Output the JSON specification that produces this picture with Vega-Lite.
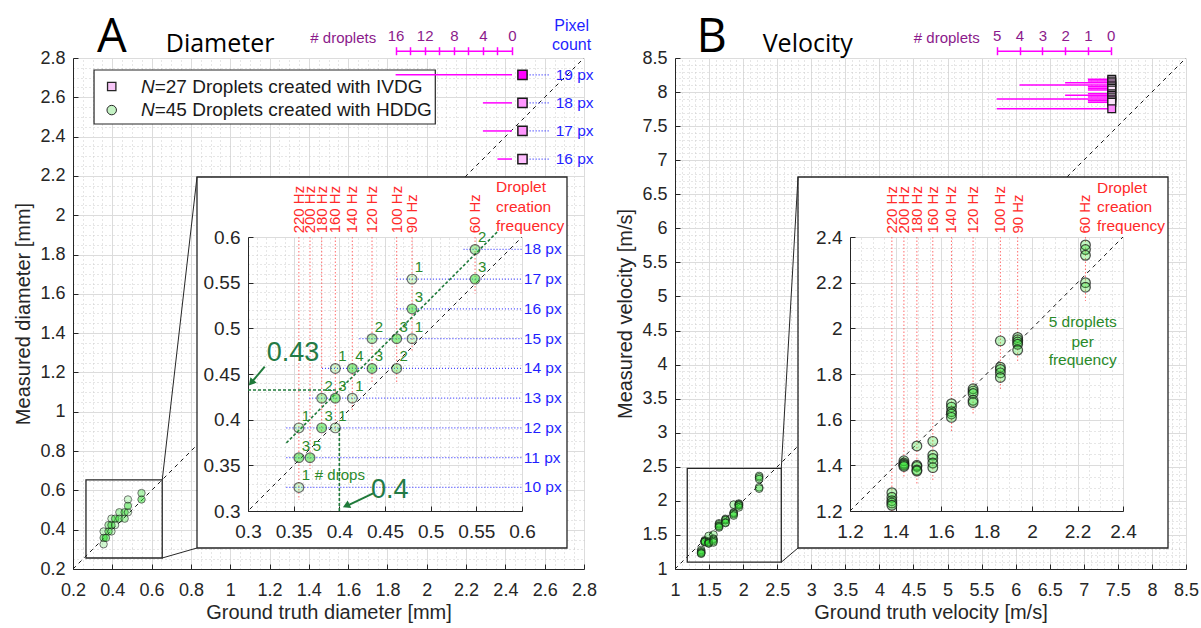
{
"$schema":"https://vega.github.io/schema/vega-lite/v6.json",
"width":1201,"height":628,"padding":0,"autosize":{"type":"none"},"background":"white",
"config":{"view":{"stroke":null},
"axis":{"labelFont":"Liberation Sans","labelFontSize":18,"labelColor":"#262626","domainColor":"#262626","tickColor":"#262626","titleFont":"Liberation Sans","titleFontSize":20,"titleFontWeight":"normal","titleColor":"#262626","labelFlush":false,"labelOverlap":false,"grid":false}},
"datasets":{
"hddgA":[{"gt":0.3557,"meas":0.3258,"n":1},{"gt":0.3557,"meas":0.3584,"n":3},{"gt":0.3557,"meas":0.391,"n":1},{"gt":0.3679,"meas":0.3584,"n":5},{"gt":0.3807,"meas":0.391,"n":3},{"gt":0.3807,"meas":0.4235,"n":2},{"gt":0.3956,"meas":0.391,"n":1},{"gt":0.3956,"meas":0.4235,"n":3},{"gt":0.3956,"meas":0.4561,"n":1},{"gt":0.4142,"meas":0.4235,"n":1},{"gt":0.4142,"meas":0.4561,"n":4},{"gt":0.4358,"meas":0.4561,"n":3},{"gt":0.4358,"meas":0.4887,"n":2},{"gt":0.4628,"meas":0.4561,"n":2},{"gt":0.4628,"meas":0.4887,"n":3},{"gt":0.4796,"meas":0.4887,"n":1},{"gt":0.4796,"meas":0.5213,"n":3},{"gt":0.4796,"meas":0.5539,"n":1},{"gt":0.5486,"meas":0.5539,"n":3},{"gt":0.5486,"meas":0.5864,"n":2}],
"vel":[{"gt":1.384,"v":1.28},{"gt":1.384,"v":1.26},{"gt":1.384,"v":1.245},{"gt":1.384,"v":1.235},{"gt":1.384,"v":1.225},
{"gt":1.437,"v":1.42},{"gt":1.437,"v":1.41},{"gt":1.437,"v":1.405},{"gt":1.437,"v":1.4},{"gt":1.437,"v":1.395},
{"gt":1.494,"v":1.485},{"gt":1.494,"v":1.4},{"gt":1.494,"v":1.395},{"gt":1.494,"v":1.38},{"gt":1.494,"v":1.375},
{"gt":1.564,"v":1.505},{"gt":1.564,"v":1.445},{"gt":1.564,"v":1.43},{"gt":1.564,"v":1.41},{"gt":1.564,"v":1.39},
{"gt":1.646,"v":1.67},{"gt":1.646,"v":1.655},{"gt":1.646,"v":1.635},{"gt":1.646,"v":1.625},{"gt":1.646,"v":1.61},
{"gt":1.741,"v":1.735},{"gt":1.741,"v":1.725},{"gt":1.741,"v":1.715},{"gt":1.741,"v":1.685},{"gt":1.741,"v":1.675},
{"gt":1.861,"v":1.945},{"gt":1.861,"v":1.83},{"gt":1.861,"v":1.82},{"gt":1.861,"v":1.805},{"gt":1.861,"v":1.785},
{"gt":1.937,"v":1.96},{"gt":1.937,"v":1.95},{"gt":1.937,"v":1.94},{"gt":1.937,"v":1.93},{"gt":1.937,"v":1.905},
{"gt":2.235,"v":2.365},{"gt":2.235,"v":2.345},{"gt":2.235,"v":2.32},{"gt":2.235,"v":2.2},{"gt":2.235,"v":2.18}],
"freqA":[{"f":"220 Hz","x":0.3557,"yb":0.312,"yt":0.6,"yl":0.604},{"f":"200 Hz","x":0.3679,"yb":0.346,"yt":0.6,"yl":0.604},{"f":"180 Hz","x":0.3807,"yb":0.385,"yt":0.6,"yl":0.604},{"f":"160 Hz","x":0.3956,"yb":0.386,"yt":0.6,"yl":0.604},{"f":"140 Hz","x":0.4142,"yb":0.41,"yt":0.6,"yl":0.604},{"f":"120 Hz","x":0.4358,"yb":0.441,"yt":0.6,"yl":0.604},{"f":"100 Hz","x":0.4628,"yb":0.441,"yt":0.6,"yl":0.604},{"f":"90 Hz","x":0.4796,"yb":0.474,"yt":0.6,"yl":0.604},{"f":"60 Hz","x":0.5486,"yb":0.538,"yt":0.6,"yl":0.604}],
"freqB":[{"f":"220 Hz","x":1.384,"yb":1.2,"yt":2.4,"yl":2.415},{"f":"200 Hz","x":1.437,"yb":1.35,"yt":2.4,"yl":2.415},{"f":"180 Hz","x":1.494,"yb":1.32,"yt":2.4,"yl":2.415},{"f":"160 Hz","x":1.564,"yb":1.33,"yt":2.4,"yl":2.415},{"f":"140 Hz","x":1.646,"yb":1.55,"yt":2.4,"yl":2.415},{"f":"120 Hz","x":1.741,"yb":1.62,"yt":2.4,"yl":2.415},{"f":"100 Hz","x":1.861,"yb":1.73,"yt":2.4,"yl":2.415},{"f":"90 Hz","x":1.937,"yb":1.85,"yt":2.4,"yl":2.415},{"f":"60 Hz","x":2.235,"yb":2.12,"yt":2.4,"yl":2.415}],
"pxA":[{"l":"10 px","y":0.3258,"xs":0.342,"xe":0.6,"xl":0.602},{"l":"11 px","y":0.3584,"xs":0.342,"xe":0.6,"xl":0.602},{"l":"12 px","y":0.391,"xs":0.342,"xe":0.6,"xl":0.602},{"l":"13 px","y":0.4235,"xs":0.367,"xe":0.6,"xl":0.602},{"l":"14 px","y":0.4561,"xs":0.381,"xe":0.6,"xl":0.602},{"l":"15 px","y":0.4887,"xs":0.422,"xe":0.6,"xl":0.602},{"l":"16 px","y":0.5213,"xs":0.463,"xe":0.6,"xl":0.602},{"l":"17 px","y":0.5539,"xs":0.463,"xe":0.6,"xl":0.602},{"l":"18 px","y":0.5864,"xs":0.536,"xe":0.6,"xl":0.602}],
"ivdgA":[{"l":"19 px","y":2.7145,"c":16,"z":0,"xq":2.487,"xa":2.508,"xb":2.627,"xl":2.656},{"l":"18 px","y":2.5717,"c":4,"z":0,"xq":2.487,"xa":2.508,"xb":2.627,"xl":2.656},{"l":"17 px","y":2.4288,"c":4,"z":0,"xq":2.487,"xa":2.508,"xb":2.627,"xl":2.656},{"l":"16 px","y":2.2859,"c":2,"z":0,"xq":2.487,"xa":2.508,"xb":2.627,"xl":2.656}],
"ivdgB":[{"v":8.188,"c":1,"z":0,"xq":7.41},{"v":8.163,"c":1,"z":0,"xq":7.41},{"v":8.138,"c":2,"z":0,"xq":7.41},{"v":8.104,"c":4,"z":0,"xq":7.41},{"v":8.079,"c":1,"z":0,"xq":7.41},{"v":8.055,"c":1,"z":0,"xq":7.41},{"v":8.031,"c":1,"z":0,"xq":7.41},{"v":7.976,"c":1,"z":0,"xq":7.41},{"v":7.953,"c":2,"z":0,"xq":7.41},{"v":7.928,"c":1,"z":0,"xq":7.41},{"v":7.899,"c":5,"z":0,"xq":7.41},{"v":7.874,"c":1,"z":0,"xq":7.41},{"v":7.85,"c":1,"z":0,"xq":7.41},{"v":7.756,"c":5,"z":0,"xq":7.41}]
},
"resolve":{"scale":{"x":"independent","y":"independent"},"axis":{"x":"independent","y":"independent"}},
"layer":[
{"data":{"values":[{"px":0.2,"py":0.2}]},"mark":{"type":"point","opacity":0},"encoding":{
"x":{"field":"px","type":"quantitative","scale":{"domain":[0.2,2.8],"range":[73,584],"nice":false,"zero":false},"axis":{"orient":"top","values":[0.2,0.25,0.3,0.35,0.4,0.45,0.5,0.55,0.6,0.65,0.7,0.75,0.8,0.85,0.9,0.95,1,1.05,1.1,1.15,1.2,1.25,1.3,1.35,1.4,1.45,1.5,1.55,1.6,1.65,1.7,1.75,1.8,1.85,1.9,1.95,2,2.05,2.1,2.15,2.2,2.25,2.3,2.35,2.4,2.45,2.5,2.55,2.6,2.65,2.7,2.75,2.8],"grid":true,"labels":false,"ticks":false,"domain":false,"title":null,"gridColor":"#cccccc","gridDash":[1,3]}},
"y":{"field":"py","type":"quantitative","scale":{"domain":[0.2,0.3068],"range":[569,548],"nice":false,"zero":false},"axis":{"orient":"left","values":[0.2,0.25,0.3],"grid":true,"labels":false,"ticks":false,"domain":false,"title":null,"gridColor":"#cccccc","gridDash":[1,3]}}}},
{"data":{"values":[{"px":0.2,"py":0.2}]},"mark":{"type":"point","opacity":0},"encoding":{
"x":{"field":"px","type":"quantitative","scale":{"domain":[0.2,2.8],"range":[73,584],"nice":false,"zero":false},"axis":{"orient":"top","values":[0.2,0.4,0.6,0.8,1,1.2,1.4,1.6,1.8,2,2.2,2.4,2.6,2.8],"grid":true,"labels":false,"ticks":false,"domain":false,"title":null,"gridColor":"#dcdcdc"}},
"y":{"field":"py","type":"quantitative","scale":{"domain":[0.2,0.3068],"range":[569,548],"nice":false,"zero":false},"axis":{"orient":"left","values":[0.2],"grid":true,"labels":false,"ticks":false,"domain":false,"title":null,"gridColor":"#dcdcdc"}}}},
{"data":{"values":[{"px":0.2,"py":2.3}]},"mark":{"type":"point","opacity":0},"encoding":{
"x":{"field":"px","type":"quantitative","scale":{"domain":[0.2,2.8],"range":[73,584],"nice":false,"zero":false},"axis":{"orient":"top","values":[0.2,0.25,0.3,0.35,0.4,0.45,0.5,0.55,0.6,0.65,0.7,0.75,0.8,0.85,0.9,0.95,1,1.05,1.1,1.15,1.2,1.25,1.3,1.35,1.4,1.45,1.5,1.55,1.6,1.65,1.7,1.75,1.8,1.85,1.9,1.95,2,2.05,2.1,2.15,2.2,2.25,2.3,2.35,2.4,2.45,2.5,2.55,2.6,2.65,2.7,2.75,2.8],"grid":true,"labels":false,"ticks":false,"domain":false,"title":null,"gridColor":"#cccccc","gridDash":[1,3]}},
"y":{"field":"py","type":"quantitative","scale":{"domain":[2.1945,2.8],"range":[177,58],"nice":false,"zero":false},"axis":{"orient":"left","values":[2.2,2.25,2.3,2.35,2.4,2.45,2.5,2.55,2.6,2.65,2.7,2.75,2.8],"grid":true,"labels":false,"ticks":false,"domain":false,"title":null,"gridColor":"#cccccc","gridDash":[1,3]}}}},
{"data":{"values":[{"px":0.2,"py":2.3}]},"mark":{"type":"point","opacity":0},"encoding":{
"x":{"field":"px","type":"quantitative","scale":{"domain":[0.2,2.8],"range":[73,584],"nice":false,"zero":false},"axis":{"orient":"top","values":[0.2,0.4,0.6,0.8,1,1.2,1.4,1.6,1.8,2,2.2,2.4,2.6,2.8],"grid":true,"labels":false,"ticks":false,"domain":false,"title":null,"gridColor":"#dcdcdc"}},
"y":{"field":"py","type":"quantitative","scale":{"domain":[2.1945,2.8],"range":[177,58],"nice":false,"zero":false},"axis":{"orient":"left","values":[2.2,2.4,2.6,2.8],"grid":true,"labels":false,"ticks":false,"domain":false,"title":null,"gridColor":"#dcdcdc"}}}},
{"data":{"values":[{"px":0.3,"py":1}]},"mark":{"type":"point","opacity":0},"encoding":{
"x":{"field":"px","type":"quantitative","scale":{"domain":[0.2,0.8309],"range":[73,197],"nice":false,"zero":false},"axis":{"orient":"top","values":[0.2,0.25,0.3,0.35,0.4,0.45,0.5,0.55,0.6,0.65,0.7,0.75,0.8],"grid":true,"labels":false,"ticks":false,"domain":false,"title":null,"gridColor":"#cccccc","gridDash":[1,3]}},
"y":{"field":"py","type":"quantitative","scale":{"domain":[0.3068,2.1945],"range":[548,177],"nice":false,"zero":false},"axis":{"orient":"left","values":[0.35,0.4,0.45,0.5,0.55,0.6,0.65,0.7,0.75,0.8,0.85,0.9,0.95,1,1.05,1.1,1.15,1.2,1.25,1.3,1.35,1.4,1.45,1.5,1.55,1.6,1.65,1.7,1.75,1.8,1.85,1.9,1.95,2,2.05,2.1,2.15],"grid":true,"labels":false,"ticks":false,"domain":false,"title":null,"gridColor":"#cccccc","gridDash":[1,3]}}}},
{"data":{"values":[{"px":0.3,"py":1}]},"mark":{"type":"point","opacity":0},"encoding":{
"x":{"field":"px","type":"quantitative","scale":{"domain":[0.2,0.8309],"range":[73,197],"nice":false,"zero":false},"axis":{"orient":"top","values":[0.2,0.4,0.6,0.8],"grid":true,"labels":false,"ticks":false,"domain":false,"title":null,"gridColor":"#dcdcdc"}},
"y":{"field":"py","type":"quantitative","scale":{"domain":[0.3068,2.1945],"range":[548,177],"nice":false,"zero":false},"axis":{"orient":"left","values":[0.4,0.6,0.8,1,1.2,1.4,1.6,1.8,2],"grid":true,"labels":false,"ticks":false,"domain":false,"title":null,"gridColor":"#dcdcdc"}}}},
{"data":{"values":[{"px":2.75,"py":1}]},"mark":{"type":"point","opacity":0},"encoding":{
"x":{"field":"px","type":"quantitative","scale":{"domain":[2.7135,2.8],"range":[567,584],"nice":false,"zero":false},"axis":{"orient":"top","values":[2.75],"grid":true,"labels":false,"ticks":false,"domain":false,"title":null,"gridColor":"#cccccc","gridDash":[1,3]}},
"y":{"field":"py","type":"quantitative","scale":{"domain":[0.3068,2.1945],"range":[548,177],"nice":false,"zero":false},"axis":{"orient":"left","values":[0.35,0.4,0.45,0.5,0.55,0.6,0.65,0.7,0.75,0.8,0.85,0.9,0.95,1,1.05,1.1,1.15,1.2,1.25,1.3,1.35,1.4,1.45,1.5,1.55,1.6,1.65,1.7,1.75,1.8,1.85,1.9,1.95,2,2.05,2.1,2.15],"grid":true,"labels":false,"ticks":false,"domain":false,"title":null,"gridColor":"#cccccc","gridDash":[1,3]}}}},
{"data":{"values":[{"px":2.75,"py":1}]},"mark":{"type":"point","opacity":0},"encoding":{
"x":{"field":"px","type":"quantitative","scale":{"domain":[2.7135,2.8],"range":[567,584],"nice":false,"zero":false},"axis":{"orient":"top","values":[2.8],"grid":true,"labels":false,"ticks":false,"domain":false,"title":null,"gridColor":"#dcdcdc"}},
"y":{"field":"py","type":"quantitative","scale":{"domain":[0.3068,2.1945],"range":[548,177],"nice":false,"zero":false},"axis":{"orient":"left","values":[0.4,0.6,0.8,1,1.2,1.4,1.6,1.8,2],"grid":true,"labels":false,"ticks":false,"domain":false,"title":null,"gridColor":"#dcdcdc"}}}},
{"data":{"values":[{"px":0.3,"py":0.3}]},"mark":{"type":"point","opacity":0},"encoding":{
"x":{"field":"px","type":"quantitative","scale":{"domain":[0.3,0.6],"range":[248,522],"nice":false,"zero":false},"axis":{"orient":"top","values":[0.3,0.31,0.32,0.33,0.34,0.35,0.36,0.37,0.38,0.39,0.4,0.41,0.42,0.43,0.44,0.45,0.46,0.47,0.48,0.49,0.5,0.51,0.52,0.53,0.54,0.55,0.56,0.57,0.58,0.59,0.6],"grid":true,"labels":false,"ticks":false,"domain":false,"title":null,"gridColor":"#cccccc","gridDash":[1,3]}},
"y":{"field":"py","type":"quantitative","scale":{"domain":[0.3,0.6],"range":[511,237],"nice":false,"zero":false},"axis":{"orient":"left","values":[0.3,0.31,0.32,0.33,0.34,0.35,0.36,0.37,0.38,0.39,0.4,0.41,0.42,0.43,0.44,0.45,0.46,0.47,0.48,0.49,0.5,0.51,0.52,0.53,0.54,0.55,0.56,0.57,0.58,0.59,0.6],"grid":true,"labels":false,"ticks":false,"domain":false,"title":null,"gridColor":"#cccccc","gridDash":[1,3]}}}},
{"data":{"values":[{"px":0.3,"py":0.3}]},"mark":{"type":"point","opacity":0},"encoding":{
"x":{"field":"px","type":"quantitative","scale":{"domain":[0.3,0.6],"range":[248,522],"nice":false,"zero":false},"axis":{"orient":"top","values":[0.3,0.35,0.4,0.45,0.5,0.55,0.6],"grid":true,"labels":false,"ticks":false,"domain":false,"title":null,"gridColor":"#dcdcdc"}},
"y":{"field":"py","type":"quantitative","scale":{"domain":[0.3,0.6],"range":[511,237],"nice":false,"zero":false},"axis":{"orient":"left","values":[0.3,0.35,0.4,0.45,0.5,0.55,0.6],"grid":true,"labels":false,"ticks":false,"domain":false,"title":null,"gridColor":"#dcdcdc"}}}},
{"data":{"values":[{"px":1,"py":1}]},"mark":{"type":"point","opacity":0},"encoding":{
"x":{"field":"px","type":"quantitative","scale":{"domain":[1,8.5],"range":[675,1186],"nice":false,"zero":false},"axis":{"orient":"top","values":[1,1.1,1.2,1.3,1.4,1.5,1.6,1.7,1.8,1.9,2,2.1,2.2,2.3,2.4,2.5,2.6,2.7,2.8,2.9,3,3.1,3.2,3.3,3.4,3.5,3.6,3.7,3.8,3.9,4,4.1,4.2,4.3,4.4,4.5,4.6,4.7,4.8,4.9,5,5.1,5.2,5.3,5.4,5.5,5.6,5.7,5.8,5.9,6,6.1,6.2,6.3,6.4,6.5,6.6,6.7,6.8,6.9,7,7.1,7.2,7.3,7.4,7.5,7.6,7.7,7.8,7.9,8,8.1,8.2,8.3,8.4,8.5],"grid":true,"labels":false,"ticks":false,"domain":false,"title":null,"gridColor":"#cccccc","gridDash":[1,3]}},
"y":{"field":"py","type":"quantitative","scale":{"domain":[1,1.3082],"range":[569,548],"nice":false,"zero":false},"axis":{"orient":"left","values":[1,1.1,1.2,1.3],"grid":true,"labels":false,"ticks":false,"domain":false,"title":null,"gridColor":"#cccccc","gridDash":[1,3]}}}},
{"data":{"values":[{"px":1,"py":1}]},"mark":{"type":"point","opacity":0},"encoding":{
"x":{"field":"px","type":"quantitative","scale":{"domain":[1,8.5],"range":[675,1186],"nice":false,"zero":false},"axis":{"orient":"top","values":[1,1.5,2,2.5,3,3.5,4,4.5,5,5.5,6,6.5,7,7.5,8,8.5],"grid":true,"labels":false,"ticks":false,"domain":false,"title":null,"gridColor":"#dcdcdc"}},
"y":{"field":"py","type":"quantitative","scale":{"domain":[1,1.3082],"range":[569,548],"nice":false,"zero":false},"axis":{"orient":"left","values":[1],"grid":true,"labels":false,"ticks":false,"domain":false,"title":null,"gridColor":"#dcdcdc"}}}},
{"data":{"values":[{"px":1,"py":7}]},"mark":{"type":"point","opacity":0},"encoding":{
"x":{"field":"px","type":"quantitative","scale":{"domain":[1,8.5],"range":[675,1186],"nice":false,"zero":false},"axis":{"orient":"top","values":[1,1.1,1.2,1.3,1.4,1.5,1.6,1.7,1.8,1.9,2,2.1,2.2,2.3,2.4,2.5,2.6,2.7,2.8,2.9,3,3.1,3.2,3.3,3.4,3.5,3.6,3.7,3.8,3.9,4,4.1,4.2,4.3,4.4,4.5,4.6,4.7,4.8,4.9,5,5.1,5.2,5.3,5.4,5.5,5.6,5.7,5.8,5.9,6,6.1,6.2,6.3,6.4,6.5,6.6,6.7,6.8,6.9,7,7.1,7.2,7.3,7.4,7.5,7.6,7.7,7.8,7.9,8,8.1,8.2,8.3,8.4,8.5],"grid":true,"labels":false,"ticks":false,"domain":false,"title":null,"gridColor":"#cccccc","gridDash":[1,3]}},
"y":{"field":"py","type":"quantitative","scale":{"domain":[6.7534,8.5],"range":[177,58],"nice":false,"zero":false},"axis":{"orient":"left","values":[6.8,6.9,7,7.1,7.2,7.3,7.4,7.5,7.6,7.7,7.8,7.9,8,8.1,8.2,8.3,8.4,8.5],"grid":true,"labels":false,"ticks":false,"domain":false,"title":null,"gridColor":"#cccccc","gridDash":[1,3]}}}},
{"data":{"values":[{"px":1,"py":7}]},"mark":{"type":"point","opacity":0},"encoding":{
"x":{"field":"px","type":"quantitative","scale":{"domain":[1,8.5],"range":[675,1186],"nice":false,"zero":false},"axis":{"orient":"top","values":[1,1.5,2,2.5,3,3.5,4,4.5,5,5.5,6,6.5,7,7.5,8,8.5],"grid":true,"labels":false,"ticks":false,"domain":false,"title":null,"gridColor":"#dcdcdc"}},
"y":{"field":"py","type":"quantitative","scale":{"domain":[6.7534,8.5],"range":[177,58],"nice":false,"zero":false},"axis":{"orient":"left","values":[7,7.5,8,8.5],"grid":true,"labels":false,"ticks":false,"domain":false,"title":null,"gridColor":"#dcdcdc"}}}},
{"data":{"values":[{"px":1,"py":2}]},"mark":{"type":"point","opacity":0},"encoding":{
"x":{"field":"px","type":"quantitative","scale":{"domain":[1,2.8053],"range":[675,798],"nice":false,"zero":false},"axis":{"orient":"top","values":[1,1.1,1.2,1.3,1.4,1.5,1.6,1.7,1.8,1.9,2,2.1,2.2,2.3,2.4,2.5,2.6,2.7,2.8],"grid":true,"labels":false,"ticks":false,"domain":false,"title":null,"gridColor":"#cccccc","gridDash":[1,3]}},
"y":{"field":"py","type":"quantitative","scale":{"domain":[1.3082,6.7534],"range":[548,177],"nice":false,"zero":false},"axis":{"orient":"left","values":[1.4,1.5,1.6,1.7,1.8,1.9,2,2.1,2.2,2.3,2.4,2.5,2.6,2.7,2.8,2.9,3,3.1,3.2,3.3,3.4,3.5,3.6,3.7,3.8,3.9,4,4.1,4.2,4.3,4.4,4.5,4.6,4.7,4.8,4.9,5,5.1,5.2,5.3,5.4,5.5,5.6,5.7,5.8,5.9,6,6.1,6.2,6.3,6.4,6.5,6.6,6.7],"grid":true,"labels":false,"ticks":false,"domain":false,"title":null,"gridColor":"#cccccc","gridDash":[1,3]}}}},
{"data":{"values":[{"px":1,"py":2}]},"mark":{"type":"point","opacity":0},"encoding":{
"x":{"field":"px","type":"quantitative","scale":{"domain":[1,2.8053],"range":[675,798],"nice":false,"zero":false},"axis":{"orient":"top","values":[1,1.5,2,2.5],"grid":true,"labels":false,"ticks":false,"domain":false,"title":null,"gridColor":"#dcdcdc"}},
"y":{"field":"py","type":"quantitative","scale":{"domain":[1.3082,6.7534],"range":[548,177],"nice":false,"zero":false},"axis":{"orient":"left","values":[1.5,2,2.5,3,3.5,4,4.5,5,5.5,6,6.5],"grid":true,"labels":false,"ticks":false,"domain":false,"title":null,"gridColor":"#dcdcdc"}}}},
{"data":{"values":[{"px":8.3,"py":2}]},"mark":{"type":"point","opacity":0},"encoding":{
"x":{"field":"px","type":"quantitative","scale":{"domain":[8.2358,8.5],"range":[1168,1186],"nice":false,"zero":false},"axis":{"orient":"top","values":[8.3,8.4],"grid":true,"labels":false,"ticks":false,"domain":false,"title":null,"gridColor":"#cccccc","gridDash":[1,3]}},
"y":{"field":"py","type":"quantitative","scale":{"domain":[1.3082,6.7534],"range":[548,177],"nice":false,"zero":false},"axis":{"orient":"left","values":[1.4,1.5,1.6,1.7,1.8,1.9,2,2.1,2.2,2.3,2.4,2.5,2.6,2.7,2.8,2.9,3,3.1,3.2,3.3,3.4,3.5,3.6,3.7,3.8,3.9,4,4.1,4.2,4.3,4.4,4.5,4.6,4.7,4.8,4.9,5,5.1,5.2,5.3,5.4,5.5,5.6,5.7,5.8,5.9,6,6.1,6.2,6.3,6.4,6.5,6.6,6.7],"grid":true,"labels":false,"ticks":false,"domain":false,"title":null,"gridColor":"#cccccc","gridDash":[1,3]}}}},
{"data":{"values":[{"px":8.3,"py":2}]},"mark":{"type":"point","opacity":0},"encoding":{
"x":{"field":"px","type":"quantitative","scale":{"domain":[8.2358,8.5],"range":[1168,1186],"nice":false,"zero":false},"axis":{"orient":"top","values":[8.5],"grid":true,"labels":false,"ticks":false,"domain":false,"title":null,"gridColor":"#dcdcdc"}},
"y":{"field":"py","type":"quantitative","scale":{"domain":[1.3082,6.7534],"range":[548,177],"nice":false,"zero":false},"axis":{"orient":"left","values":[1.5,2,2.5,3,3.5,4,4.5,5,5.5,6,6.5],"grid":true,"labels":false,"ticks":false,"domain":false,"title":null,"gridColor":"#dcdcdc"}}}},
{"data":{"values":[{"px":1.2,"py":1.2}]},"mark":{"type":"point","opacity":0},"encoding":{
"x":{"field":"px","type":"quantitative","scale":{"domain":[1.2,2.4],"range":[850,1123],"nice":false,"zero":false},"axis":{"orient":"top","values":[1.2,1.25,1.3,1.35,1.4,1.45,1.5,1.55,1.6,1.65,1.7,1.75,1.8,1.85,1.9,1.95,2,2.05,2.1,2.15,2.2,2.25,2.3,2.35,2.4],"grid":true,"labels":false,"ticks":false,"domain":false,"title":null,"gridColor":"#cccccc","gridDash":[1,3]}},
"y":{"field":"py","type":"quantitative","scale":{"domain":[1.2,2.4],"range":[511,237],"nice":false,"zero":false},"axis":{"orient":"left","values":[1.2,1.25,1.3,1.35,1.4,1.45,1.5,1.55,1.6,1.65,1.7,1.75,1.8,1.85,1.9,1.95,2,2.05,2.1,2.15,2.2,2.25,2.3,2.35,2.4],"grid":true,"labels":false,"ticks":false,"domain":false,"title":null,"gridColor":"#cccccc","gridDash":[1,3]}}}},
{"data":{"values":[{"px":1.2,"py":1.2}]},"mark":{"type":"point","opacity":0},"encoding":{
"x":{"field":"px","type":"quantitative","scale":{"domain":[1.2,2.4],"range":[850,1123],"nice":false,"zero":false},"axis":{"orient":"top","values":[1.2,1.4,1.6,1.8,2,2.2,2.4],"grid":true,"labels":false,"ticks":false,"domain":false,"title":null,"gridColor":"#dcdcdc"}},
"y":{"field":"py","type":"quantitative","scale":{"domain":[1.2,2.4],"range":[511,237],"nice":false,"zero":false},"axis":{"orient":"left","values":[1.2,1.4,1.6,1.8,2,2.2,2.4],"grid":true,"labels":false,"ticks":false,"domain":false,"title":null,"gridColor":"#dcdcdc"}}}},

{"data":{"values":[{"px":0.2,"py":0.2}]},"mark":{"type":"point","opacity":0},"encoding":{
"x":{"field":"px","type":"quantitative","scale":{"domain":[0.2,2.8],"range":[73,584],"nice":false,"zero":false},"axis":{"orient":"bottom","offset":-59,"values":[0.2,0.4,0.6,0.8,1,1.2,1.4,1.6,1.8,2,2.2,2.4,2.6,2.8],"format":"~g","tickSize":-5,"labelPadding":17,"title":"Ground truth diameter [mm]","titlePadding":3}},
"y":{"field":"py","type":"quantitative","scale":{"domain":[0.2,2.8],"range":[569,58],"nice":false,"zero":false},"axis":{"orient":"left","offset":-73,"values":[0.2,0.4,0.6,0.8,1,1.2,1.4,1.6,1.8,2,2.2,2.4,2.6,2.8],"format":"~g","tickSize":-5,"labelPadding":13,"title":"Measured diameter [mm]","titlePadding":6}}}},
{"data":{"values":[{"px":0.3,"py":0.3}]},"mark":{"type":"point","opacity":0},"encoding":{
"x":{"field":"px","type":"quantitative","scale":{"domain":[0.3,0.6],"range":[248,522],"nice":false,"zero":false},"axis":{"orient":"bottom","offset":-117,"values":[0.3,0.35,0.4,0.45,0.5,0.55,0.6],"format":"~g","tickSize":-5,"labelPadding":16,"labelFontSize":19,"title":null}},
"y":{"field":"py","type":"quantitative","scale":{"domain":[0.3,0.6],"range":[511,237],"nice":false,"zero":false},"axis":{"orient":"left","offset":-248,"values":[0.3,0.35,0.4,0.45,0.5,0.55,0.6],"format":"~g","tickSize":-5,"labelPadding":13,"labelFontSize":19,"title":null}}}},
{"data":{"values":[{"px":1,"py":1}]},"mark":{"type":"point","opacity":0},"encoding":{
"x":{"field":"px","type":"quantitative","scale":{"domain":[1,8.5],"range":[675,1186],"nice":false,"zero":false},"axis":{"orient":"bottom","offset":-59,"values":[1,1.5,2,2.5,3,3.5,4,4.5,5,5.5,6,6.5,7,7.5,8,8.5],"format":"~g","tickSize":-5,"labelPadding":17,"title":"Ground truth velocity [m/s]","titlePadding":3}},
"y":{"field":"py","type":"quantitative","scale":{"domain":[1,8.5],"range":[569,58],"nice":false,"zero":false},"axis":{"orient":"left","offset":-675,"values":[1,1.5,2,2.5,3,3.5,4,4.5,5,5.5,6,6.5,7,7.5,8,8.5],"format":"~g","tickSize":-5,"labelPadding":13,"title":"Measured velocity [m/s]","titlePadding":6}}}},
{"data":{"values":[{"px":1.2,"py":1.2}]},"mark":{"type":"point","opacity":0},"encoding":{
"x":{"field":"px","type":"quantitative","scale":{"domain":[1.2,2.4],"range":[850,1123],"nice":false,"zero":false},"axis":{"orient":"bottom","offset":-117,"values":[1.2,1.4,1.6,1.8,2,2.2,2.4],"format":"~g","tickSize":-5,"labelPadding":16,"labelFontSize":19,"title":null}},
"y":{"field":"py","type":"quantitative","scale":{"domain":[1.2,2.4],"range":[511,237],"nice":false,"zero":false},"axis":{"orient":"left","offset":-850,"values":[1.2,1.4,1.6,1.8,2,2.2,2.4],"format":"~g","tickSize":-5,"labelPadding":13,"labelFontSize":19,"title":null}}}},
{"data":{"values":[{"px":0}]},"mark":{"type":"point","opacity":0},"encoding":{
"x":{"field":"px","type":"quantitative","scale":{"domain":[0,16],"range":[512,395.6],"nice":false,"zero":false},"axis":{"orient":"top","offset":-50.7,"values":[0,2,4,6,8,10,12,14,16],"labels":false,"domain":false,"tickSize":-4,"tickColor":"#ff00ff","tickWidth":1.5,"title":null}}}},
{"data":{"values":[{"px":0}]},"mark":{"type":"point","opacity":0},"encoding":{
"x":{"field":"px","type":"quantitative","scale":{"domain":[0,5],"range":[1110.7,996.7],"nice":false,"zero":false},"axis":{"orient":"top","offset":-50.7,"values":[0,1,2,3,4,5],"labels":false,"domain":false,"tickSize":-4,"tickColor":"#ff00ff","tickWidth":1.5,"title":null}}}},

{"data":{"values":[{"x1":0.2,"y1":0.2,"x2":0.8309,"y2":0.8309},{"x1":2.1945,"y1":2.1945,"x2":2.8,"y2":2.8}]},"mark":{"type":"rule","color":"#1a1a1a","strokeDash":[4,4],"strokeWidth":1},"encoding":{
"x":{"field":"x1","type":"quantitative","scale":{"domain":[0.2,2.8],"range":[73,584],"nice":false,"zero":false},"axis":null},
"y":{"field":"y1","type":"quantitative","scale":{"domain":[0.2,2.8],"range":[569,58],"nice":false,"zero":false},"axis":null},
"x2":{"field":"x2"},"y2":{"field":"y2"}}},
{"data":{"values":[{"x1":0.266,"x2":0.654,"y1":0.256,"y2":0.653},{"x1":0.8309,"x2":2.7135,"y1":0.3068,"y2":2.1945}]},"mark":{"type":"rect","fill":"white","fillOpacity":0,"stroke":"#262626","strokeWidth":1.3},"encoding":{
"x":{"field":"x1","type":"quantitative","scale":{"domain":[0.2,2.8],"range":[73,584],"nice":false,"zero":false},"axis":null},
"y":{"field":"y1","type":"quantitative","scale":{"domain":[0.2,2.8],"range":[569,58],"nice":false,"zero":false},"axis":null},
"x2":{"field":"x2"},"y2":{"field":"y2"}}},
{"data":{"values":[{"x1":0.654,"y1":0.653,"x2":0.8309,"y2":2.1945},{"x1":0.654,"y1":0.256,"x2":0.8309,"y2":0.3068}]},"mark":{"type":"rule","color":"#262626","strokeWidth":1},"encoding":{
"x":{"field":"x1","type":"quantitative","scale":{"domain":[0.2,2.8],"range":[73,584],"nice":false,"zero":false},"axis":null},
"y":{"field":"y1","type":"quantitative","scale":{"domain":[0.2,2.8],"range":[569,58],"nice":false,"zero":false},"axis":null},
"x2":{"field":"x2"},"y2":{"field":"y2"}}},
{"data":{"name":"hddgA"},"mark":{"type":"circle","fill":"#30e030","stroke":"#1a1a1a","strokeWidth":1,"strokeOpacity":0.85,"size":55},"encoding":{
"x":{"field":"gt","type":"quantitative","scale":{"domain":[0.2,2.8],"range":[73,584],"nice":false,"zero":false},"axis":null},
"y":{"field":"meas","type":"quantitative","scale":{"domain":[0.2,2.8],"range":[569,58],"nice":false,"zero":false},"axis":null},
"fillOpacity":{"field":"n","type":"quantitative","scale":{"domain":[1,3],"range":[0.3,0.75],"clamp":true},"legend":null}}},
{"data":{"values":[{"x1":0.307,"x2":2.0434,"y1":2.4642,"y2":2.739}]},"mark":{"type":"rect","fill":"white","stroke":"#262626","strokeWidth":1.2},"encoding":{
"x":{"field":"x1","type":"quantitative","scale":{"domain":[0.2,2.8],"range":[73,584],"nice":false,"zero":false},"axis":null},
"y":{"field":"y1","type":"quantitative","scale":{"domain":[0.2,2.8],"range":[569,58],"nice":false,"zero":false},"axis":null},
"x2":{"field":"x2"},"y2":{"field":"y2"}}},
{"data":{"values":[{"x":0.397,"y":2.655}]},"mark":{"type":"square","fill":"#f7c5f7","stroke":"#262626","strokeWidth":1.3,"size":70,"opacity":1},"encoding":{
"x":{"field":"x","type":"quantitative","scale":{"domain":[0.2,2.8],"range":[73,584],"nice":false,"zero":false},"axis":null},
"y":{"field":"y","type":"quantitative","scale":{"domain":[0.2,2.8],"range":[569,58],"nice":false,"zero":false},"axis":null}}},
{"data":{"values":[{"x":0.397,"y":2.535}]},"mark":{"type":"circle","fill":"#c4f2c4","stroke":"#262626","strokeWidth":1,"size":90,"opacity":1},"encoding":{
"x":{"field":"x","type":"quantitative","scale":{"domain":[0.2,2.8],"range":[73,584],"nice":false,"zero":false},"axis":null},
"y":{"field":"y","type":"quantitative","scale":{"domain":[0.2,2.8],"range":[569,58],"nice":false,"zero":false},"axis":null}}},
{"data":{"values":[{"x":0.546,"y":2.651,"t":"N"},{"x":0.546,"y":2.535,"t":"N"}]},"mark":{"type":"text","font":"Liberation Sans","fontSize":19,"fontStyle":"italic","align":"left","baseline":"middle","color":"#1a1a1a"},"encoding":{
"x":{"field":"x","type":"quantitative","scale":{"domain":[0.2,2.8],"range":[73,584],"nice":false,"zero":false},"axis":null},
"y":{"field":"y","type":"quantitative","scale":{"domain":[0.2,2.8],"range":[569,58],"nice":false,"zero":false},"axis":null},
"text":{"field":"t","type":"nominal"}}},
{"data":{"values":[{"x":0.6157,"y":2.651,"t":"=27 Droplets created with IVDG"},{"x":0.6157,"y":2.535,"t":"=45 Droplets created with HDDG"}]},"mark":{"type":"text","font":"Liberation Sans","fontSize":19,"align":"left","baseline":"middle","color":"#1a1a1a"},"encoding":{
"x":{"field":"x","type":"quantitative","scale":{"domain":[0.2,2.8],"range":[73,584],"nice":false,"zero":false},"axis":null},
"y":{"field":"y","type":"quantitative","scale":{"domain":[0.2,2.8],"range":[569,58],"nice":false,"zero":false},"axis":null},
"text":{"field":"t","type":"nominal"}}},
{"data":{"name":"ivdgA"},"mark":{"type":"rule","color":"#ff00ff","strokeWidth":1.5},"encoding":{
"x":{"field":"c","type":"quantitative","scale":{"domain":[0,16],"range":[512,395.6],"nice":false,"zero":false},"axis":{"orient":"top","offset":-50.7,"values":[0,2,4,6,8,10,12,14,16],"labelExpr":"datum.value % 4 == 0 ? datum.label : ''","format":"~g","tickSize":4,"tickColor":"#ff00ff","tickWidth":1.5,"domainColor":"#ff00ff","domainWidth":1.5,"labelColor":"#8b1a8b","labelFontSize":15,"labelPadding":3,"title":null}},
"x2":{"field":"z"},
"y":{"field":"y","type":"quantitative","scale":{"domain":[0.2,2.8],"range":[569,58],"nice":false,"zero":false},"axis":null}}},
{"data":{"name":"ivdgA"},"mark":{"type":"rule","color":"#3030ff","strokeDash":[1,2],"strokeWidth":1.3},"encoding":{
"x":{"field":"xa","type":"quantitative","scale":{"domain":[0.2,2.8],"range":[73,584],"nice":false,"zero":false},"axis":null},
"x2":{"field":"xb"},
"y":{"field":"y","type":"quantitative","scale":{"domain":[0.2,2.8],"range":[569,58],"nice":false,"zero":false},"axis":null}}},
{"data":{"name":"ivdgA"},"mark":{"type":"square","stroke":"#1a1a1a","strokeWidth":1.5,"size":85,"opacity":1},"encoding":{
"x":{"field":"xq","type":"quantitative","scale":{"domain":[0.2,2.8],"range":[73,584],"nice":false,"zero":false},"axis":null},
"y":{"field":"y","type":"quantitative","scale":{"domain":[0.2,2.8],"range":[569,58],"nice":false,"zero":false},"axis":null},
"fill":{"field":"c","type":"quantitative","scale":{"type":"log","domain":[1,16],"range":["#fbe3fb","#ff00ff"]},"legend":null}}},
{"data":{"name":"ivdgA"},"mark":{"type":"text","font":"Liberation Sans","fontSize":15.5,"align":"left","baseline":"middle","color":"#1f1fff"},"encoding":{
"x":{"field":"xl","type":"quantitative","scale":{"domain":[0.2,2.8],"range":[73,584],"nice":false,"zero":false},"axis":null},
"y":{"field":"y","type":"quantitative","scale":{"domain":[0.2,2.8],"range":[569,58],"nice":false,"zero":false},"axis":null},
"text":{"field":"l","type":"nominal"}}},
{"data":{"values":[{"t":"Pixel","x":2.737,"y":2.963},{"t":"count","x":2.737,"y":2.866}]},"mark":{"type":"text","font":"Liberation Sans","fontSize":16,"align":"center","baseline":"middle","color":"#1f1fff"},"encoding":{
"x":{"field":"x","type":"quantitative","scale":{"domain":[0.2,2.8],"range":[73,584],"nice":false,"zero":false},"axis":null},
"y":{"field":"y","type":"quantitative","scale":{"domain":[0.2,2.8],"range":[569,58],"nice":false,"zero":false},"axis":null},
"text":{"field":"t","type":"nominal"}}},
{"data":{"values":[{"t":"# droplets","c":23.2,"y":2.902}]},"mark":{"type":"text","font":"Liberation Sans","fontSize":15,"align":"center","baseline":"middle","color":"#8b1a8b"},"encoding":{
"x":{"field":"c","type":"quantitative","scale":{"domain":[0,16],"range":[512,395.6],"nice":false,"zero":false},"axis":null},
"y":{"field":"y","type":"quantitative","scale":{"domain":[0.2,2.8],"range":[569,58],"nice":false,"zero":false},"axis":null},
"text":{"field":"t","type":"nominal"}}},
{"data":{"values":[{"t":"A","x":0.398,"y":2.8326}]},"mark":{"type":"text","font":"Open Sans","fontSize":47,"align":"center","baseline":"alphabetic","color":"#000000"},"encoding":{
"x":{"field":"x","type":"quantitative","scale":{"domain":[0.2,2.8],"range":[73,584],"nice":false,"zero":false},"axis":null},
"y":{"field":"y","type":"quantitative","scale":{"domain":[0.2,2.8],"range":[569,58],"nice":false,"zero":false},"axis":null},
"text":{"field":"t","type":"nominal"}}},
{"data":{"values":[{"t":"Diameter","x":0.672,"y":2.8326}]},"mark":{"type":"text","font":"Open Sans","fontSize":25,"align":"left","baseline":"alphabetic","color":"#000000"},"encoding":{
"x":{"field":"x","type":"quantitative","scale":{"domain":[0.2,2.8],"range":[73,584],"nice":false,"zero":false},"axis":null},
"y":{"field":"y","type":"quantitative","scale":{"domain":[0.2,2.8],"range":[569,58],"nice":false,"zero":false},"axis":null},
"text":{"field":"t","type":"nominal"}}},

{"data":{"name":"freqA"},"mark":{"type":"rule","color":"#ff6b6b","strokeDash":[1.5,2],"strokeWidth":1},"encoding":{
"x":{"field":"x","type":"quantitative","scale":{"domain":[0.3,0.6],"range":[248,522],"nice":false,"zero":false},"axis":null},
"y":{"field":"yt","type":"quantitative","scale":{"domain":[0.3,0.6],"range":[511,237],"nice":false,"zero":false},"axis":null},
"y2":{"field":"yb"}}},
{"data":{"name":"pxA"},"mark":{"type":"rule","color":"#4646ff","strokeDash":[1,2],"strokeWidth":1.2},"encoding":{
"x":{"field":"xs","type":"quantitative","scale":{"domain":[0.3,0.6],"range":[248,522],"nice":false,"zero":false},"axis":null},
"x2":{"field":"xe"},
"y":{"field":"y","type":"quantitative","scale":{"domain":[0.3,0.6],"range":[511,237],"nice":false,"zero":false},"axis":null}}},
{"data":{"values":[{"x1":0.302,"y1":0.302,"x2":0.6,"y2":0.6}]},"mark":{"type":"rule","color":"#1a1a1a","strokeDash":[4,4],"strokeWidth":1},"encoding":{
"x":{"field":"x1","type":"quantitative","scale":{"domain":[0.3,0.6],"range":[248,522],"nice":false,"zero":false},"axis":null},
"y":{"field":"y1","type":"quantitative","scale":{"domain":[0.3,0.6],"range":[511,237],"nice":false,"zero":false},"axis":null},
"x2":{"field":"x2"},"y2":{"field":"y2"}}},
{"data":{"values":[{"x1":0.342,"y1":0.3746,"x2":0.573,"y2":0.6056},{"x1":0.3,"y1":0.4325,"x2":0.398,"y2":0.4325},{"x1":0.4,"y1":0.3,"x2":0.4,"y2":0.391}]},"mark":{"type":"rule","color":"#1f7a3a","strokeDash":[3,2],"strokeWidth":1.6},"encoding":{
"x":{"field":"x1","type":"quantitative","scale":{"domain":[0.3,0.6],"range":[248,522],"nice":false,"zero":false},"axis":null},
"y":{"field":"y1","type":"quantitative","scale":{"domain":[0.3,0.6],"range":[511,237],"nice":false,"zero":false},"axis":null},
"x2":{"field":"x2"},"y2":{"field":"y2"}}},
{"data":{"values":[{"x1":0.3183,"y1":0.458,"x2":0.304,"y2":0.441},{"x1":0.437,"y1":0.3194,"x2":0.4082,"y2":0.3056}]},"mark":{"type":"rule","color":"#1f7a3a","strokeWidth":2},"encoding":{
"x":{"field":"x1","type":"quantitative","scale":{"domain":[0.3,0.6],"range":[248,522],"nice":false,"zero":false},"axis":null},
"y":{"field":"y1","type":"quantitative","scale":{"domain":[0.3,0.6],"range":[511,237],"nice":false,"zero":false},"axis":null},
"x2":{"field":"x2"},"y2":{"field":"y2"}}},
{"data":{"values":[{"x":0.3035,"y":0.4405}]},"mark":{"type":"point","shape":"triangle-up","filled":true,"color":"#1f7a3a","opacity":1,"size":70,"angle":220.6},"encoding":{
"x":{"field":"x","type":"quantitative","scale":{"domain":[0.3,0.6],"range":[248,522],"nice":false,"zero":false},"axis":null},
"y":{"field":"y","type":"quantitative","scale":{"domain":[0.3,0.6],"range":[511,237],"nice":false,"zero":false},"axis":null}}},
{"data":{"values":[{"x":0.4075,"y":0.3057}]},"mark":{"type":"point","shape":"triangle-up","filled":true,"color":"#1f7a3a","opacity":1,"size":70,"angle":245},"encoding":{
"x":{"field":"x","type":"quantitative","scale":{"domain":[0.3,0.6],"range":[248,522],"nice":false,"zero":false},"axis":null},
"y":{"field":"y","type":"quantitative","scale":{"domain":[0.3,0.6],"range":[511,237],"nice":false,"zero":false},"axis":null}}},
{"data":{"name":"hddgA"},"mark":{"type":"circle","fill":"#30e030","stroke":"#1a1a1a","strokeWidth":1.2,"strokeOpacity":0.9,"size":95},"encoding":{
"x":{"field":"gt","type":"quantitative","scale":{"domain":[0.3,0.6],"range":[248,522],"nice":false,"zero":false},"axis":null},
"y":{"field":"meas","type":"quantitative","scale":{"domain":[0.3,0.6],"range":[511,237],"nice":false,"zero":false},"axis":null},
"fillOpacity":{"field":"n","type":"quantitative","scale":{"domain":[1,3],"range":[0.3,0.75],"clamp":true},"legend":null}}},
{"data":{"name":"hddgA"},"mark":{"type":"text","font":"Liberation Sans","fontSize":15,"align":"center","baseline":"middle","dx":7,"dy":-12,"color":"#2a8a2a"},"encoding":{
"x":{"field":"gt","type":"quantitative","scale":{"domain":[0.3,0.6],"range":[248,522],"nice":false,"zero":false},"axis":null},
"y":{"field":"meas","type":"quantitative","scale":{"domain":[0.3,0.6],"range":[511,237],"nice":false,"zero":false},"axis":null},
"text":{"field":"n","type":"nominal"}}},
{"data":{"name":"freqA"},"mark":{"type":"text","font":"Liberation Sans","fontSize":15,"angle":270,"align":"left","baseline":"middle","color":"#ff2a2a"},"encoding":{
"x":{"field":"x","type":"quantitative","scale":{"domain":[0.3,0.6],"range":[248,522],"nice":false,"zero":false},"axis":null},
"y":{"field":"yl","type":"quantitative","scale":{"domain":[0.3,0.6],"range":[511,237],"nice":false,"zero":false},"axis":null},
"text":{"field":"f","type":"nominal"}}},
{"data":{"name":"pxA"},"mark":{"type":"text","font":"Liberation Sans","fontSize":15.5,"align":"left","baseline":"middle","color":"#1f1fff"},"encoding":{
"x":{"field":"xl","type":"quantitative","scale":{"domain":[0.3,0.6],"range":[248,522],"nice":false,"zero":false},"axis":null},
"y":{"field":"y","type":"quantitative","scale":{"domain":[0.3,0.6],"range":[511,237],"nice":false,"zero":false},"axis":null},
"text":{"field":"l","type":"nominal"}}},
{"data":{"values":[{"t":"Droplet","x":0.5716,"y":0.6544},{"t":"creation","x":0.5716,"y":0.6332},{"t":"frequency","x":0.5716,"y":0.612}]},"mark":{"type":"text","font":"Liberation Sans","fontSize":15.5,"align":"left","baseline":"middle","color":"#ff2a2a"},"encoding":{
"x":{"field":"x","type":"quantitative","scale":{"domain":[0.3,0.6],"range":[248,522],"nice":false,"zero":false},"axis":null},
"y":{"field":"y","type":"quantitative","scale":{"domain":[0.3,0.6],"range":[511,237],"nice":false,"zero":false},"axis":null},
"text":{"field":"t","type":"nominal"}}},
{"data":{"values":[{"t":"0.43","x":0.3492,"y":0.473},{"t":"0.4","x":0.4553,"y":0.323}]},"mark":{"type":"text","font":"Liberation Sans","fontSize":27,"align":"center","baseline":"middle","color":"#237a45"},"encoding":{
"x":{"field":"x","type":"quantitative","scale":{"domain":[0.3,0.6],"range":[248,522],"nice":false,"zero":false},"axis":null},
"y":{"field":"y","type":"quantitative","scale":{"domain":[0.3,0.6],"range":[511,237],"nice":false,"zero":false},"axis":null},
"text":{"field":"t","type":"nominal"}}},
{"data":{"values":[{"t":"# drops","x":0.3732,"y":0.3394}]},"mark":{"type":"text","font":"Liberation Sans","fontSize":15,"align":"left","baseline":"middle","color":"#2a8a2a"},"encoding":{
"x":{"field":"x","type":"quantitative","scale":{"domain":[0.3,0.6],"range":[248,522],"nice":false,"zero":false},"axis":null},
"y":{"field":"y","type":"quantitative","scale":{"domain":[0.3,0.6],"range":[511,237],"nice":false,"zero":false},"axis":null},
"text":{"field":"t","type":"nominal"}}},

{"data":{"values":[{"x1":1,"y1":1,"x2":2.8053,"y2":2.8053},{"x1":6.7534,"y1":6.7534,"x2":8.5,"y2":8.5}]},"mark":{"type":"rule","color":"#1a1a1a","strokeDash":[4,4],"strokeWidth":1},"encoding":{
"x":{"field":"x1","type":"quantitative","scale":{"domain":[1,8.5],"range":[675,1186],"nice":false,"zero":false},"axis":null},
"y":{"field":"y1","type":"quantitative","scale":{"domain":[1,8.5],"range":[569,58],"nice":false,"zero":false},"axis":null},
"x2":{"field":"x2"},"y2":{"field":"y2"}}},
{"data":{"values":[{"x1":1.18,"x2":2.56,"y1":1.1,"y2":2.478},{"x1":2.8053,"x2":8.2358,"y1":1.3082,"y2":6.7534}]},"mark":{"type":"rect","fill":"white","fillOpacity":0,"stroke":"#262626","strokeWidth":1.3},"encoding":{
"x":{"field":"x1","type":"quantitative","scale":{"domain":[1,8.5],"range":[675,1186],"nice":false,"zero":false},"axis":null},
"y":{"field":"y1","type":"quantitative","scale":{"domain":[1,8.5],"range":[569,58],"nice":false,"zero":false},"axis":null},
"x2":{"field":"x2"},"y2":{"field":"y2"}}},
{"data":{"values":[{"x1":2.56,"y1":2.478,"x2":2.8053,"y2":6.7534},{"x1":2.56,"y1":1.1,"x2":2.8053,"y2":1.3082}]},"mark":{"type":"rule","color":"#262626","strokeWidth":1},"encoding":{
"x":{"field":"x1","type":"quantitative","scale":{"domain":[1,8.5],"range":[675,1186],"nice":false,"zero":false},"axis":null},
"y":{"field":"y1","type":"quantitative","scale":{"domain":[1,8.5],"range":[569,58],"nice":false,"zero":false},"axis":null},
"x2":{"field":"x2"},"y2":{"field":"y2"}}},
{"data":{"name":"vel"},"mark":{"type":"circle","fill":"#30e030","fillOpacity":0.3,"stroke":"#1a1a1a","strokeWidth":1,"strokeOpacity":0.7,"size":60},"encoding":{
"x":{"field":"gt","type":"quantitative","scale":{"domain":[1,8.5],"range":[675,1186],"nice":false,"zero":false},"axis":null},
"y":{"field":"v","type":"quantitative","scale":{"domain":[1,8.5],"range":[569,58],"nice":false,"zero":false},"axis":null}}},
{"data":{"name":"ivdgB"},"mark":{"type":"rule","color":"#ff00ff","strokeWidth":1.5},"encoding":{
"x":{"field":"c","type":"quantitative","scale":{"domain":[0,5],"range":[1110.7,996.7],"nice":false,"zero":false},"axis":{"orient":"top","offset":-50.7,"values":[0,1,2,3,4,5],"format":"~g","tickSize":4,"tickColor":"#ff00ff","tickWidth":1.5,"domainColor":"#ff00ff","domainWidth":1.5,"labelColor":"#8b1a8b","labelFontSize":15,"labelPadding":3,"title":null}},
"x2":{"field":"z"},
"y":{"field":"v","type":"quantitative","scale":{"domain":[1,8.5],"range":[569,58],"nice":false,"zero":false},"axis":null}}},
{"data":{"name":"ivdgB"},"mark":{"type":"square","stroke":"#1a1a1a","strokeWidth":1.3,"size":60,"opacity":1},"encoding":{
"x":{"field":"xq","type":"quantitative","scale":{"domain":[1,8.5],"range":[675,1186],"nice":false,"zero":false},"axis":null},
"y":{"field":"v","type":"quantitative","scale":{"domain":[1,8.5],"range":[569,58],"nice":false,"zero":false},"axis":null},
"fill":{"field":"c","type":"quantitative","scale":{"type":"log","domain":[1,16],"range":["#fbe3fb","#ff00ff"]},"legend":null}}},
{"data":{"values":[{"t":"# droplets","c":7.19,"y":8.7935}]},"mark":{"type":"text","font":"Liberation Sans","fontSize":15,"align":"center","baseline":"middle","color":"#8b1a8b"},"encoding":{
"x":{"field":"c","type":"quantitative","scale":{"domain":[0,5],"range":[1110.7,996.7],"nice":false,"zero":false},"axis":null},
"y":{"field":"y","type":"quantitative","scale":{"domain":[1,8.5],"range":[569,58],"nice":false,"zero":false},"axis":null},
"text":{"field":"t","type":"nominal"}}},
{"data":{"values":[{"t":"B","x":1.539,"y":8.5925}]},"mark":{"type":"text","font":"Open Sans","fontSize":47,"align":"center","baseline":"alphabetic","color":"#000000"},"encoding":{
"x":{"field":"x","type":"quantitative","scale":{"domain":[1,8.5],"range":[675,1186],"nice":false,"zero":false},"axis":null},
"y":{"field":"y","type":"quantitative","scale":{"domain":[1,8.5],"range":[569,58],"nice":false,"zero":false},"axis":null},
"text":{"field":"t","type":"nominal"}}},
{"data":{"values":[{"t":"Velocity","x":2.287,"y":8.5925}]},"mark":{"type":"text","font":"Open Sans","fontSize":25,"align":"left","baseline":"alphabetic","color":"#000000"},"encoding":{
"x":{"field":"x","type":"quantitative","scale":{"domain":[1,8.5],"range":[675,1186],"nice":false,"zero":false},"axis":null},
"y":{"field":"y","type":"quantitative","scale":{"domain":[1,8.5],"range":[569,58],"nice":false,"zero":false},"axis":null},
"text":{"field":"t","type":"nominal"}}},

{"data":{"name":"freqB"},"mark":{"type":"rule","color":"#ff6b6b","strokeDash":[1.5,2],"strokeWidth":1},"encoding":{
"x":{"field":"x","type":"quantitative","scale":{"domain":[1.2,2.4],"range":[850,1123],"nice":false,"zero":false},"axis":null},
"y":{"field":"yt","type":"quantitative","scale":{"domain":[1.2,2.4],"range":[511,237],"nice":false,"zero":false},"axis":null},
"y2":{"field":"yb"}}},
{"data":{"values":[{"x1":1.2,"y1":1.2,"x2":2.4,"y2":2.4}]},"mark":{"type":"rule","color":"#1a1a1a","strokeDash":[4,4],"strokeWidth":1},"encoding":{
"x":{"field":"x1","type":"quantitative","scale":{"domain":[1.2,2.4],"range":[850,1123],"nice":false,"zero":false},"axis":null},
"y":{"field":"y1","type":"quantitative","scale":{"domain":[1.2,2.4],"range":[511,237],"nice":false,"zero":false},"axis":null},
"x2":{"field":"x2"},"y2":{"field":"y2"}}},
{"data":{"name":"vel"},"mark":{"type":"circle","fill":"#30e030","fillOpacity":0.3,"stroke":"#1a1a1a","strokeWidth":1.2,"strokeOpacity":0.75,"size":95},"encoding":{
"x":{"field":"gt","type":"quantitative","scale":{"domain":[1.2,2.4],"range":[850,1123],"nice":false,"zero":false},"axis":null},
"y":{"field":"v","type":"quantitative","scale":{"domain":[1.2,2.4],"range":[511,237],"nice":false,"zero":false},"axis":null}}},
{"data":{"name":"freqB"},"mark":{"type":"text","font":"Liberation Sans","fontSize":15,"angle":270,"align":"left","baseline":"middle","color":"#ff2a2a"},"encoding":{
"x":{"field":"x","type":"quantitative","scale":{"domain":[1.2,2.4],"range":[850,1123],"nice":false,"zero":false},"axis":null},
"y":{"field":"yl","type":"quantitative","scale":{"domain":[1.2,2.4],"range":[511,237],"nice":false,"zero":false},"axis":null},
"text":{"field":"f","type":"nominal"}}},
{"data":{"values":[{"t":"Droplet","x":2.2856,"y":2.6164},{"t":"creation","x":2.2856,"y":2.5314},{"t":"frequency","x":2.2856,"y":2.4468}]},"mark":{"type":"text","font":"Liberation Sans","fontSize":15.5,"align":"left","baseline":"middle","color":"#ff2a2a"},"encoding":{
"x":{"field":"x","type":"quantitative","scale":{"domain":[1.2,2.4],"range":[850,1123],"nice":false,"zero":false},"axis":null},
"y":{"field":"y","type":"quantitative","scale":{"domain":[1.2,2.4],"range":[511,237],"nice":false,"zero":false},"axis":null},
"text":{"field":"t","type":"nominal"}}},
{"data":{"values":[{"t":"5 droplets","x":2.2228,"y":2.0277},{"t":"per","x":2.2228,"y":1.94},{"t":"frequency","x":2.2228,"y":1.86}]},"mark":{"type":"text","font":"Liberation Sans","fontSize":15.5,"align":"center","baseline":"middle","color":"#2a8a2a"},"encoding":{
"x":{"field":"x","type":"quantitative","scale":{"domain":[1.2,2.4],"range":[850,1123],"nice":false,"zero":false},"axis":null},
"y":{"field":"y","type":"quantitative","scale":{"domain":[1.2,2.4],"range":[511,237],"nice":false,"zero":false},"axis":null},
"text":{"field":"t","type":"nominal"}}}
]
}
